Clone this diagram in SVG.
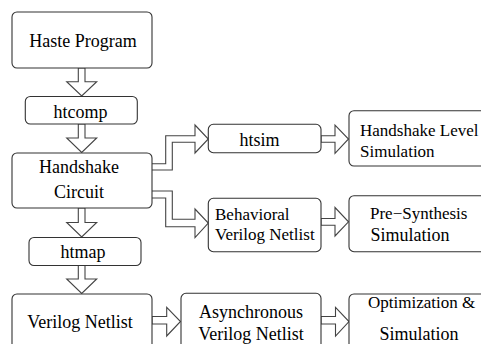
<svg xmlns="http://www.w3.org/2000/svg" width="481" height="344" viewBox="0 0 481 344" font-family="'Liberation Serif', 'Times New Roman', serif">
<style>
.box{fill:#fff;stroke:#333;stroke-width:1.1}
.arr{fill:#fff;stroke:#444;stroke-width:1.1;stroke-linejoin:miter}
text{font-family:'Liberation Serif','Times New Roman',serif;font-size:18px;fill:#000}
.c{text-anchor:middle}
.s{font-size:17px}
</style>
<rect width="481" height="344" fill="#fff"/>
<g id="connectors">
<polygon class="arr" points="78.3,68 85,68 85,81.7 96.7,81.7 81.7,96 66.7,81.7 78.3,81.7"/>
<polygon class="arr" points="78.3,124 85,124 85,138 96.7,138 81.7,152.5 66.7,138 78.3,138"/>
<polygon class="arr" points="78.3,208 85,208 85,222.5 96.7,222.5 81.7,237 66.7,222.5 78.3,222.5"/>
<polygon class="arr" points="78.3,265.5 85,265.5 85,279 96.7,279 81.7,293.5 66.7,279 78.3,279"/>
<polyline class="arr" points="152,163.7 165.7,163.7 165.7,135.7 195,135.7 195,125 208.3,139 195,153 195,142.3 172.3,142.3 172.3,170 152,170"/>
<polyline class="arr" points="152,191 172.3,191 172.3,219.3 195,219.3 195,209 208.3,223 195,237.5 195,226.7 165.7,226.7 165.7,198 152,198"/>
<polygon class="arr" points="321,135.7 335,135.7 335,125 348.5,139 335,153.3 335,142.3 321,142.3"/>
<polygon class="arr" points="321,218.5 335,218.5 335,207.5 348.5,221.8 335,236 335,225.2 321,225.2"/>
<polygon class="arr" points="152,316.5 166.7,316.5 166.7,307.3 180.5,321.5 166.7,336 166.7,324 152,324"/>
<polygon class="arr" points="321,316.5 335.5,316.5 335.5,307.3 349,321.5 335.5,336 335.5,324 321,324"/>
</g>
<g id="haste-program"><rect class="box" x="12" y="12" width="140" height="56" rx="5"/><text class="c" x="83" y="46.5">Haste Program</text></g>
<g id="htcomp"><rect class="box" x="25.3" y="96.5" width="112" height="27.5" rx="5"/><text class="c" x="80.5" y="118.3">htcomp</text></g>
<g id="handshake-circuit"><rect class="box" x="12" y="153" width="140" height="55" rx="5"/><text class="c" x="79" y="173.3">Handshake</text><text class="c" x="79" y="198.3">Circuit</text></g>
<g id="htmap"><rect class="box" x="29" y="237.5" width="112" height="28" rx="5"/><text class="c" x="83" y="258.3">htmap</text></g>
<g id="verilog-netlist"><rect class="box" x="12" y="294" width="140" height="60" rx="5"/><text class="c" x="80" y="328.3">Verilog Netlist</text></g>
<g id="htsim"><rect class="box" x="208.3" y="124.3" width="112.7" height="28.4" rx="5"/><text class="c" x="259.5" y="145.5">htsim</text></g>
<g id="behavioral"><rect class="box" x="208.3" y="198.3" width="112.7" height="53.4" rx="5"/><text class="s" x="215" y="219.8">Behavioral</text><text class="s" x="215" y="240">Verilog Netlist</text></g>
<g id="async-netlist"><rect class="box" x="181" y="293.3" width="140" height="60" rx="5"/><text class="c" x="251" y="318.3">Asynchronous</text><text class="c" x="251" y="340">Verilog Netlist</text></g>
<g id="handshake-sim"><rect class="box" x="349" y="110.7" width="145" height="55.3" rx="5"/><text class="s" x="360" y="135.8">Handshake Level</text><text class="s" x="360" y="156.5">Simulation</text></g>
<g id="pre-synthesis"><rect class="box" x="349" y="195.7" width="145" height="56" rx="5"/><text class="s" x="370" y="219">Pre−Synthesis</text><text x="370.5" y="241">Simulation</text></g>
<g id="optimization"><rect class="box" x="349" y="294" width="145" height="60" rx="5"/><text class="c s" x="421.7" y="308.3">Optimization &amp;</text><text class="c" x="419" y="340">Simulation</text></g>
</svg>
